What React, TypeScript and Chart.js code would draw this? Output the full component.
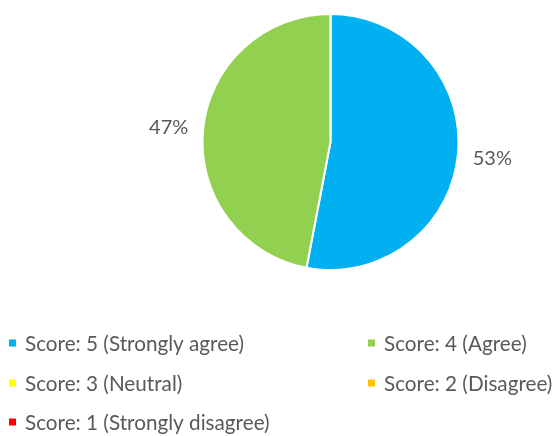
import React, { useEffect, useRef } from "react";
import { Chart, registerables } from "chart.js";

Chart.register(...registerables);

const categories = [
  "Score: 5 (Strongly agree)",
  "Score: 4 (Agree)",
  "Score: 3 (Neutral)",
  "Score: 2 (Disagree)",
  "Score: 1 (Strongly disagree)",
];
const values = [53, 47, 0, 0, 0];
const colors = ["#00B0F0", "#92D050", "#FFFF00", "#FFC000", "#FF0000"];

const FONT = "Lato, 'Open Sans', sans-serif";
const TEXT_COLOR = "#595959";

const labelPlugin = {
  id: "pctLabels",
  afterDatasetsDraw(chart: any) {
    const ctx = chart.ctx;
    const meta = chart.getDatasetMeta(0);
    const data = chart.data.datasets[0].data as number[];
    const total = data.reduce((a, b) => a + b, 0);
    ctx.save();
    ctx.font = `20px ${FONT}`;
    ctx.fillStyle = TEXT_COLOR;
    ctx.textAlign = "center";
    ctx.textBaseline = "middle";
    meta.data.forEach((arc: any, i: number) => {
      if (!data[i]) return;
      const mid = (arc.startAngle + arc.endAngle) / 2;
      const r = arc.outerRadius * 1.27;
      const x = arc.x + Math.cos(mid) * r;
      const y = arc.y + Math.sin(mid) * r;
      ctx.fillText(Math.round((data[i] / total) * 100) + "%", x, y + 1);
    });
    ctx.restore();
  },
};

const legendPlugin = {
  id: "gridLegend",
  afterDraw(chart: any) {
    const ctx = chart.ctx;
    const labels = chart.data.labels as string[];
    const bg = chart.data.datasets[0].backgroundColor as string[];
    const colX = [9, 368];
    const rowY = [343, 383, 422];
    ctx.save();
    ctx.font = `20.7px ${FONT}`;
    ctx.textBaseline = "middle";
    ctx.textAlign = "left";
    labels.forEach((lab, i) => {
      const cx = colX[i % 2];
      const cy = rowY[Math.floor(i / 2)];
      ctx.fillStyle = bg[i];
      ctx.fillRect(cx, cy - 3.5, 7, 7);
      ctx.fillStyle = TEXT_COLOR;
      ctx.fillText(lab, cx + 16, cy + 1);
    });
    ctx.restore();
  },
};

export default function App() {
  const ref = useRef<HTMLCanvasElement>(null);
  useEffect(() => {
    const chart = new Chart(ref.current!, {
      type: "pie",
      data: {
        labels: categories,
        datasets: [
          {
            data: values,
            backgroundColor: colors,
            borderColor: "#FFFFFF",
            borderWidth: 2,
          },
        ],
      },
      options: {
        animation: false,
        responsive: false,
        layout: { padding: { top: 13, bottom: 165, left: 201, right: 93 } },
        plugins: {
          legend: { display: false },
          tooltip: { enabled: false },
        },
      },
      plugins: [labelPlugin, legendPlugin],
    });
    return () => chart.destroy();
  }, []);
  return (
    <div style={{ position: "fixed", left: 0, top: 0, width: 553, height: 436, background: "#fff" }}>
      <canvas ref={ref} width={553} height={436} />
    </div>
  );
}
